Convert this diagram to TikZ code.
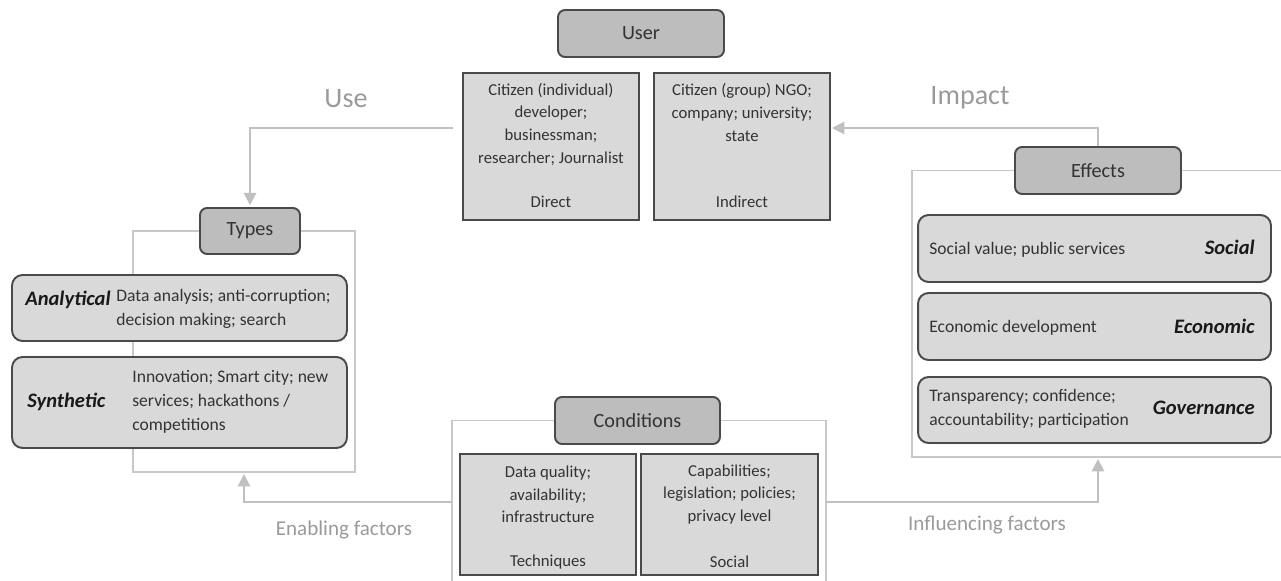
\documentclass[tikz,border=0pt]{standalone}
\usepackage{fontspec}
\setmainfont{Carlito}
\usepackage{tikz}
\usetikzlibrary{arrows.meta}

\definecolor{headfill}{HTML}{BDBDBD}
\definecolor{cellfill}{HTML}{D9D9D9}
\definecolor{edgegray}{HTML}{4A4A4A}
\definecolor{linkgray}{HTML}{C0C0C0}
\definecolor{framegray}{HTML}{C8C8C8}
\definecolor{labelgray}{HTML}{9A9A9A}
\definecolor{inkgray}{HTML}{333333}

\begin{document}
\begin{tikzpicture}[x=0.02cm, y=-0.02cm,
  headbox/.style={draw=edgegray, fill=headfill, line width=1.1pt, rounded corners=4pt,
    inner sep=0pt, text=inkgray, font=\fontsize{11.5}{14}\selectfont},
  cellbox/.style={draw=edgegray, fill=cellfill, line width=1.1pt, inner sep=0pt},
  itembox/.style={draw=edgegray, fill=cellfill, line width=1.1pt, rounded corners=6pt, inner sep=0pt},
  celltext/.style={inner sep=0pt, align=center, text=inkgray, font=\fontsize{9.5}{12.9}\selectfont},
  itemtext/.style={inner sep=0pt, align=left, text=inkgray, font=\fontsize{10}{13.6}\selectfont},
  tagtext/.style={inner sep=0pt, text=black!90, font=\fontsize{11.7}{14}\selectfont\bfseries\itshape},
  bracket/.style={draw=framegray, line width=0.9pt},
  flow/.style={draw=linkgray, line width=1.1pt, -{Triangle[length=7pt,width=7pt]}},
  flowlabel/.style={inner sep=0pt, text=labelgray}]

  \useasboundingbox (0,0) rectangle (1281,581);

  % User and its two groups
  \node[headbox, minimum width=3.32cm, minimum height=0.94cm] (user) at (641,33.5) {User};
  \node[cellbox, minimum width=3.52cm, minimum height=2.94cm] (direct) at (551,146.5) {};
  \node[cellbox, minimum width=3.52cm, minimum height=2.94cm] (indirect) at (742,146.5) {};
  \node[celltext] (direct-txt) at (551,124) {Citizen (individual)\\developer;\\businessman;\\researcher; Journalist};
  \node[celltext] (direct-lbl) at (551,202) {Direct};
  \node[celltext] (indirect-txt) at (742,112.5) {Citizen (group) NGO;\\company; university;\\state};
  \node[celltext] (indirect-lbl) at (742,202) {Indirect};

  % Types
  \node[headbox, minimum width=2cm, minimum height=0.92cm] (types) at (250,231) {Types};
  \draw[bracket] (types.west) -- (133,231) -- (133,472) -- (355,472) -- (355,231) -- (types.east);
  \node[itembox, minimum width=6.7cm, minimum height=1.32cm] (analytical) at (179.5,308) {};
  \node[itembox, minimum width=6.7cm, minimum height=1.82cm] (synthetic) at (179.5,402.5) {};
  \node[tagtext, anchor=west] (analytical-tag) at (25,300) {Analytical};
  \node[itemtext, anchor=west] (analytical-txt) at (116,309) {Data analysis; anti-corruption;\\decision making; search};
  \node[tagtext, anchor=west] (synthetic-tag) at (27,402) {Synthetic};
  \node[itemtext, anchor=west] (synthetic-txt) at (132,402) {Innovation; Smart city; new\\services; hackathons /\\competitions};

  % Conditions
  \node[headbox, minimum width=3.3cm, minimum height=0.94cm] (conditions) at (637.5,420.5) {Conditions};
  \draw[bracket] (conditions.west) -- (452,420.5) -- (452,581);
  \draw[bracket] (conditions.east) -- (826,420.5) -- (826,581);
  \node[cellbox, minimum width=3.52cm, minimum height=2.42cm] (techniques) at (548,514.5) {};
  \node[cellbox, minimum width=3.54cm, minimum height=2.42cm] (social) at (729.5,514.5) {};
  \node[celltext] (techniques-txt) at (548,494.5) {Data quality;\\availability;\\infrastructure};
  \node[celltext] (techniques-lbl) at (548,562) {Techniques};
  \node[celltext] (social-txt) at (729.5,494.5) {Capabilities;\\legislation; policies;\\privacy level};
  \node[celltext] (social-lbl) at (729.5,562) {Social};

  % Effects
  \node[headbox, minimum width=3.32cm, minimum height=0.94cm] (effects) at (1098,170.5) {Effects};
  \draw[bracket] (effects.west) -- (912,170.5) -- (912,457) -- (1281,457);
  \draw[bracket] (effects.east) -- (1281,170.5);
  \node[itembox, minimum width=7.06cm, minimum height=1.34cm] (fx-social) at (1094.5,248.5) {};
  \node[itembox, minimum width=7.06cm, minimum height=1.34cm] (fx-economic) at (1094.5,326.5) {};
  \node[itembox, minimum width=7.06cm, minimum height=1.32cm] (fx-governance) at (1094.5,410) {};
  \node[itemtext, anchor=west] (fx-social-txt) at (929,250) {Social value; public services};
  \node[tagtext, anchor=east] (fx-social-tag) at (1255,247) {Social};
  \node[itemtext, anchor=west] (fx-economic-txt) at (929,328) {Economic development};
  \node[tagtext, anchor=east] (fx-economic-tag) at (1255,326) {Economic};
  \node[itemtext, anchor=west] (fx-governance-txt) at (929,409) {Transparency; confidence;\\accountability; participation};
  \node[tagtext, anchor=east] (fx-governance-tag) at (1255,408) {Governance};

  % Connectors
  \coordinate (use-from) at (453,128);
  \coordinate (impact-to) at (832,128);
  \coordinate (enable-from) at (452,502);
  \coordinate (types-foot) at (244,474);
  \coordinate (influence-from) at (826,502);
  \coordinate (effects-foot) at (1098,459);
  \draw[flow, shorten >=1pt] (use-from) -| (types.north);
  \draw[flow] (effects.north) |- (impact-to);
  \draw[flow] (enable-from) -| (types-foot);
  \draw[flow] (influence-from) -| (effects-foot);

  % Labels on the connectors
  \node[flowlabel, font=\fontsize{16}{19}\selectfont] (use-lbl) at (346,99) {Use};
  \node[flowlabel, font=\fontsize{16}{19}\selectfont] (impact-lbl) at (970,98) {Impact};
  \node[flowlabel, font=\fontsize{12}{14}\selectfont] (enable-lbl) at (344,530) {Enabling factors};
  \node[flowlabel, font=\fontsize{12}{14}\selectfont] (influence-lbl) at (987,525) {Influencing factors};
\end{tikzpicture}
\end{document}
